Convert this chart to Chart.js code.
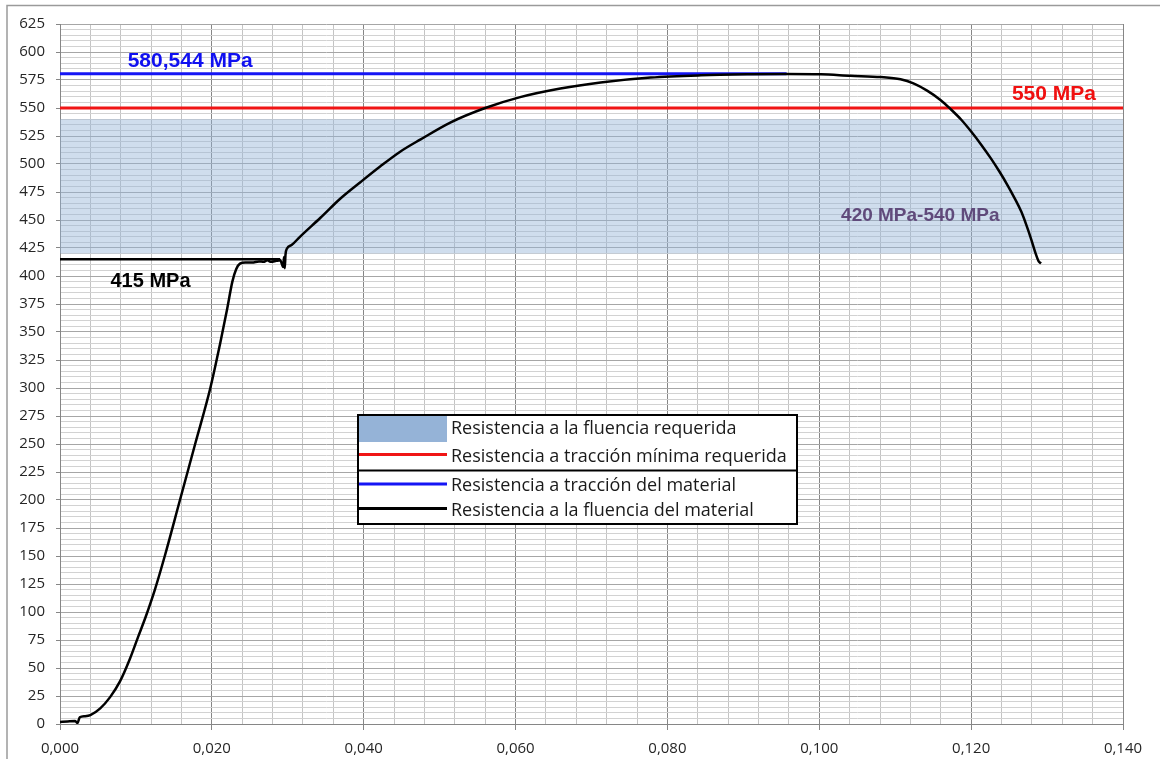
<!DOCTYPE html>
<html>
<head>
<meta charset="utf-8">
<script src="https://cdn.jsdelivr.net/npm/chart.js@4.4.1/dist/chart.umd.min.js"></script>
<style>
html,body{margin:0;padding:0;background:#fff;}
canvas{display:block;}
</style>
</head>
<body>
<canvas id="c" width="1160" height="759"></canvas>
<script>
// ---- Data ----
const strain = [0.0000,0.0010,0.0020,0.0023,0.0026,0.0033,0.0040,0.0053,0.0066,0.0079,0.0092,0.0103,0.0113,0.0125,0.0138,0.0158,0.0178,0.0198,0.0211,0.0220,0.0227,0.0232,0.0237,0.0244,0.0253,0.0262,0.0268,0.0273,0.0278,0.0285,0.0290,0.0294,0.0295,0.0296,0.0297,0.0299,0.0305,0.0316,0.0343,0.0369,0.0396,0.0422,0.0448,0.0475,0.0514,0.0560,0.0606,0.0659,0.0712,0.0778,0.0844,0.0910,0.0957,0.1002,0.1041,0.1081,0.1107,0.1124,0.1142,0.1160,0.1173,0.1187,0.1200,0.1213,0.1226,0.1237,0.1248,0.1257,0.1266,0.1273,0.1279,0.1285,0.1289,0.1292];
const stress = [1.8,2.3,2.7,0.9,6,7,8,14,24,38,58,78,96,120,150,200,250,300,340,370,395,406,411,412,412,413,412.7,414,412.7,413.5,414,408,417,407,419,424.6,427.6,435,452,469,484,498,511,522,537,550,559.7,567.4,572.8,577.2,579.2,580.1,580.4,580.1,578.8,577.6,575.6,572,565.5,557,549,539.5,529,517.5,505,493.5,481,469.8,457.5,445,433,420,413,411.2];

const yieldLineX = [0, 0.0290];
const yieldLineY = [415, 415];
const tensileX = [0, 0.0957];
const tensileY = [580.544, 580.544];
const minTensileX = [0, 0.14];
const minTensileY = [550, 550];
const bandX = [0, 0.14];
const bandTop = [540, 540];
const bandBottom = 420;

const seriesLabels = [
  'Resistencia a la fluencia requerida',
  'Resistencia a tracción mínima requerida',
  'Resistencia a tracción del material',
  'Resistencia a la fluencia del material'
];
const annotationTexts = ['580,544 MPa', '550 MPa', '415 MPa', '420 MPa-540 MPa'];
const annotationX = [0.01714, 0.1309, 0.01192, 0.1133];
const annotationY = [592, 562.2, 395, 453.5];

const xMin = 0, xMax = 0.14, xStep = 0.004, xLabelEvery = 20; // label every 0.020
const yMin = 0, yMax = 625, yStep = 5, yLabelEvery = 25;

// ---- Helpers ----
const pts = (xs, ys) => xs.map((x, i) => ({x, y: ys[i]}));
const isMajorX = v => Math.round(v * 1000) % xLabelEvery === 0;
const isMajorY = v => Math.round(v) % yLabelEvery === 0;

const annoStyles = [
  {color: '#1010F0', font: 'bold 21px "Liberation Sans", Arial, sans-serif'},
  {color: '#F01010', font: 'bold 21px "Liberation Sans", Arial, sans-serif'},
  {color: '#000000', font: 'bold 20px "Liberation Sans", Arial, sans-serif'},
  {color: '#604A7B', font: 'bold 19px "Liberation Sans", Arial, sans-serif'}
];

const annotationsPlugin = {
  id: 'annos',
  afterDatasetsDraw(chart) {
    const {ctx, scales} = chart;
    ctx.save();
    ctx.textAlign = 'center';
    ctx.textBaseline = 'middle';
    annotationTexts.forEach((t, i) => {
      ctx.fillStyle = annoStyles[i].color;
      ctx.font = annoStyles[i].font;
      ctx.fillText(t, scales.x.getPixelForValue(annotationX[i]), scales.y.getPixelForValue(annotationY[i]));
    });
    ctx.restore();
  }
};

const legendPlugin = {
  id: 'customLegend',
  afterDraw(chart) {
    const ctx = chart.ctx;
    const ds = chart.data.datasets;
    const bx = 358, by = 415, bw = 439, bh = 109, divY = 470.5;
    ctx.save();
    ctx.fillStyle = '#fff';
    ctx.fillRect(bx, by, bw, bh);
    ctx.strokeStyle = '#000';
    ctx.lineWidth = 2;
    ctx.strokeRect(bx, by, bw, bh);
    ctx.beginPath(); ctx.moveTo(bx, divY); ctx.lineTo(bx + bw, divY); ctx.stroke();
    // swatch
    ctx.fillStyle = '#95B3D7';
    ctx.fillRect(bx + 1, by + 1, 88, 26);
    const lineRows = [[454.5, ds[2]], [484, ds[1]], [508.5, ds[0]]];
    lineRows.forEach(([y, d]) => {
      ctx.strokeStyle = d.borderColor;
      ctx.lineWidth = 3;
      ctx.beginPath(); ctx.moveTo(bx + 1, y); ctx.lineTo(bx + 89, y); ctx.stroke();
    });
    ctx.fillStyle = '#1a1a1a';
    ctx.font = '18px "Open Sans", sans-serif';
    ctx.textAlign = 'left';
    ctx.textBaseline = 'middle';
    const textY = [429, 457, 485.5, 511];
    seriesLabels.forEach((t, i) => ctx.fillText(t, 451, textY[i]));
    ctx.restore();
  }
};

const framePlugin = {
  id: 'frame',
  afterDraw(chart) {
    const ctx = chart.ctx;
    ctx.save();
    ctx.strokeStyle = '#9a9a9a';
    ctx.lineWidth = 1.5;
    ctx.beginPath();
    ctx.moveTo(7, 760); ctx.lineTo(7, 5.5); ctx.lineTo(1160, 5.5);
    ctx.stroke();
    ctx.restore();
  }
};

const chart = new Chart(document.getElementById('c'), {
  type: 'scatter',
  data: {
    datasets: [
      {
        label: seriesLabels[3],
        data: pts(strain, stress),
        showLine: true, borderColor: '#000000', borderWidth: 2.5,
        pointRadius: 0, cubicInterpolationMode: 'monotone', fill: false
      },
      {
        label: seriesLabels[2],
        data: pts(tensileX, tensileY),
        showLine: true, borderColor: '#1515F5', borderWidth: 3, pointRadius: 0, fill: false
      },
      {
        label: seriesLabels[1],
        data: pts(minTensileX, minTensileY),
        showLine: true, borderColor: '#F01515', borderWidth: 3, pointRadius: 0, fill: false
      },
      {
        label: seriesLabels[3] + ' (415)',
        data: pts(yieldLineX, yieldLineY),
        showLine: true, borderColor: '#000000', borderWidth: 2.5, pointRadius: 0, fill: false
      },
      {
        label: seriesLabels[0],
        data: pts(bandX, bandTop),
        showLine: true, borderWidth: 0, borderColor: 'rgba(0,0,0,0)', pointRadius: 0,
        backgroundColor: 'rgba(149,179,215,0.45)',
        fill: {value: bandBottom}
      }
    ]
  },
  options: {
    responsive: false,
    animation: false,
    devicePixelRatio: 1,
    layout: {padding: {top: 24, right: 37, left: 0, bottom: 0}},
    plugins: {legend: {display: false}, tooltip: {enabled: false}},
    scales: {
      x: {
        type: 'linear', min: xMin, max: xMax,
        afterFit(s) { s.height = 35; s.paddingLeft = 0; s.paddingRight = 0; },
        border: {color: '#868686', width: 1},
        grid: {
          color: c => isMajorX(c.tick.value) ? '#868686' : '#c4c4c4',
          tickColor: c => isMajorX(c.tick.value) ? '#868686' : 'rgba(0,0,0,0)',
          tickLength: 6, lineWidth: 1
        },
        ticks: {
          stepSize: xStep, autoSkip: false, maxRotation: 0, padding: 10,
          color: '#262626',
          font: {family: '"Open Sans", sans-serif', size: 15},
          callback: v => isMajorX(v) ? v.toFixed(3).replace('.', ',') : ''
        }
      },
      y: {
        type: 'linear', min: yMin, max: yMax,
        afterFit(s) { s.width = 60; s.paddingTop = 0; s.paddingBottom = 0; },
        border: {color: '#868686', width: 1},
        grid: {
          color: c => isMajorY(c.tick.value) ? '#a6a6a6' : '#d2d2d2',
          tickColor: c => isMajorY(c.tick.value) ? '#868686' : 'rgba(0,0,0,0)',
          tickLength: 4, lineWidth: 1
        },
        ticks: {
          stepSize: yStep, autoSkip: false, padding: 11,
          color: '#262626',
          font: {family: '"Open Sans", sans-serif', size: 15},
          callback: v => isMajorY(v) ? String(Math.round(v)) : ''
        }
      }
    }
  },
  plugins: [annotationsPlugin, legendPlugin, framePlugin]
});
</script>
</body>
</html>
